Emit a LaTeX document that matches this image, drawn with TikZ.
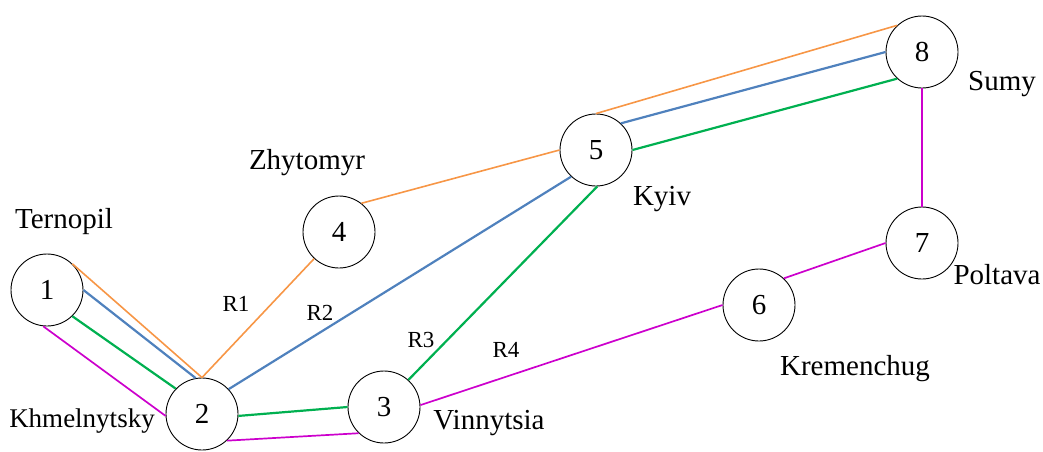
\documentclass[tikz,border=0pt]{standalone}
\usepackage{fontspec}
\setmainfont{Liberation Serif}
\definecolor{corange}{HTML}{F79646}
\definecolor{cblue}{HTML}{4F81BD}
\definecolor{cgreen}{HTML}{00B050}
\definecolor{cmag}{HTML}{CC00CC}
\begin{document}
\begin{tikzpicture}[x=1pt,y=-1pt,
  city/.style={circle,draw=black,line width=0.9pt,minimum size=72pt,inner sep=0pt,font=\fontsize{29}{31}\selectfont},
  cityname/.style={font=\fontsize{29}{31}\selectfont,inner sep=0pt},
  rlab/.style={font=\fontsize{23}{26}\selectfont,inner sep=0pt},
  eo/.style={draw=corange,line width=1.6pt},
  eb/.style={draw=cblue,line width=2.2pt},
  eg/.style={draw=cgreen,line width=2.2pt},
  em/.style={draw=cmag,line width=1.7pt}]
\useasboundingbox (0,0) rectangle (1043,451);
\node[city] (n1) at (47,290) {\raisebox{-3pt}{1}};
\node[city] (n2) at (202,414) {\raisebox{-3pt}{2}};
\node[city] (n3) at (384,407) {\raisebox{-3pt}{3}};
\node[city] (n4) at (339,232) {\raisebox{-3pt}{4}};
\node[city] (n5) at (596,150) {\raisebox{-3pt}{5}};
\node[city] (n6) at (759,305) {\raisebox{-3pt}{6}};
\node[city] (n7) at (922,243) {\raisebox{-3pt}{7}};
\node[city] (n8) at (922,52) {\raisebox{-3pt}{8}};
% labels
\node[cityname] (lt) at (64,222) {Ternopil};
\node[cityname,font=\fontsize{27}{30}\selectfont] (lk) at (82,421) {Khmelnytsky};
\node[cityname] (lz) at (307,163) {Zhytomyr};
\node[cityname] (lky) at (662,199) {Kyiv};
\node[cityname] (ls) at (1002,84) {Sumy};
\node[cityname] (lp) at (997,275) {Poltava};
\node[cityname] (lkr) at (855,369) {Kremenchug};
\node[cityname] (lv) at (489,423) {Vinnytsia};
\node[rlab] (r1) at (236,304) {R1};
\node[rlab] (r2) at (320,313) {R2};
\node[rlab] (r3) at (421,340) {R3};
\node[rlab] (r4) at (506,350) {R4};
% edges 1-2
\draw[eo] (n1.46) -- (n2.90);
\draw[eb] (n1.0) -- (n2.100);
\draw[eg] (n1.-46) -- (n2.136);
\draw[em] (n1.-96) -- (n2.183);
% R1..R4
\draw[eo] (n2.90) -- (n4.-133);
\draw[eb] (n2.43) -- (n5.-133);
\draw[eg] (n3.48) -- (n5.-88);
\draw[em] (n3.3) -- (n6.180);
% 2-3
\draw[eg] (n2.-3) -- (n3.180);
\draw[em] (n2.-47) -- (n3.-134);
% 4-5
\draw[eo] (n4.52) -- (n5.180);
% 5-8
\draw[eo] (n5.90) -- (n8.133);
\draw[eb] (n5.47) -- (n8.180);
\draw[eg] (n5.0) -- (n8.-133);
% 6-7, 7-8
\draw[em] (n6.47) -- (n7.180);
\draw[em] (n8.270) -- (n7.90);
\end{tikzpicture}
\end{document}
